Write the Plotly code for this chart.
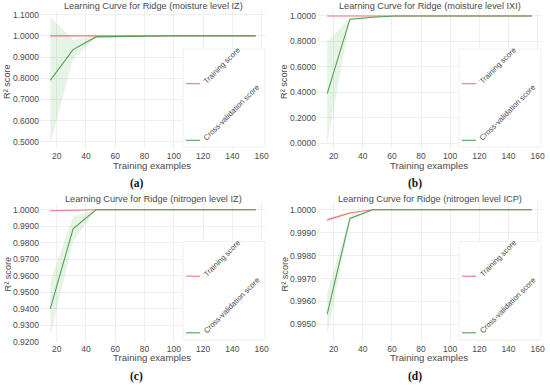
import plotly.graph_objects as go

train_sizes = [15.6, 31.2, 46.8, 62.4, 78.0, 93.6, 109.2, 124.8, 140.4, 156.0]

titles = ["Learning Curve for Ridge (moisture level IZ)",
          "Learning Curve for Ridge (moisture level IXI)",
          "Learning Curve for Ridge (nitrogen level IZ)",
          "Learning Curve for Ridge (nitrogen level ICP)"]
captions = ["(a)", "(b)", "(c)", "(d)"]

# (a) moisture IZ
train_a = [1.0] * 10
train_a_lo = [1.0] * 10
train_a_hi = [1.0] * 10
cv_a = [0.790, 0.935, 0.995, 0.997, 1.0, 1.0, 1.0, 1.0, 1.0, 1.0]
cv_a_lo = [0.490, 0.890, 0.990, 0.995, 1.0, 1.0, 1.0, 1.0, 1.0, 1.0]
cv_a_hi = [1.090, 0.980, 1.000, 0.999, 1.0, 1.0, 1.0, 1.0, 1.0, 1.0]

# (b) moisture IXI
train_b = [1.0] * 10
train_b_lo = [1.0] * 10
train_b_hi = [1.0] * 10
cv_b = [0.390, 0.975, 0.990, 1.0, 1.0, 1.0, 1.0, 1.0, 1.0, 1.0]
cv_b_lo = [-0.010, 0.968, 0.985, 1.0, 1.0, 1.0, 1.0, 1.0, 1.0, 1.0]
cv_b_hi = [0.800, 0.985, 0.995, 1.0, 1.0, 1.0, 1.0, 1.0, 1.0, 1.0]

# (c) nitrogen IZ
train_c = [0.99945, 0.99985, 1.0, 1.0, 1.0, 1.0, 1.0, 1.0, 1.0, 1.0]
train_c_lo = [0.99925, 0.99975, 1.0, 1.0, 1.0, 1.0, 1.0, 1.0, 1.0, 1.0]
train_c_hi = [0.99965, 0.99995, 1.0, 1.0, 1.0, 1.0, 1.0, 1.0, 1.0, 1.0]
cv_c = [0.9400, 0.9885, 1.0, 1.0, 1.0, 1.0, 1.0, 1.0, 1.0, 1.0]
cv_c_lo = [0.9235, 0.9810, 0.9998, 1.0, 1.0, 1.0, 1.0, 1.0, 1.0, 1.0]
cv_c_hi = [0.9565, 0.9960, 1.0, 1.0, 1.0, 1.0, 1.0, 1.0, 1.0, 1.0]

# (d) nitrogen ICP
train_d = [0.99956, 0.99986, 1.0, 1.0, 1.0, 1.0, 1.0, 1.0, 1.0, 1.0]
train_d_lo = [0.99948, 0.99982, 1.0, 1.0, 1.0, 1.0, 1.0, 1.0, 1.0, 1.0]
train_d_hi = [0.99964, 0.99990, 1.0, 1.0, 1.0, 1.0, 1.0, 1.0, 1.0, 1.0]
cv_d = [0.99545, 0.99962, 1.0, 1.0, 1.0, 1.0, 1.0, 1.0, 1.0, 1.0]
cv_d_lo = [0.99452, 0.99952, 0.99998, 1.0, 1.0, 1.0, 1.0, 1.0, 1.0, 1.0]
cv_d_hi = [0.99638, 0.99972, 1.0, 1.0, 1.0, 1.0, 1.0, 1.0, 1.0, 1.0]

panels = [
    (train_a, train_a_lo, train_a_hi, cv_a, cv_a_lo, cv_a_hi),
    (train_b, train_b_lo, train_b_hi, cv_b, cv_b_lo, cv_b_hi),
    (train_c, train_c_lo, train_c_hi, cv_c, cv_c_lo, cv_c_hi),
    (train_d, train_d_lo, train_d_hi, cv_d, cv_d_lo, cv_d_hi),
]

y_ranges = [[0.4655, 1.1222], [-0.0448, 1.047], [0.9200, 1.0044], [0.99423, 1.000317]]
y_ticks = [[0.5, 0.6, 0.7, 0.8, 0.9, 1.0, 1.1],
           [0.0, 0.2, 0.4, 0.6, 0.8, 1.0],
           [0.92, 0.93, 0.94, 0.95, 0.96, 0.97, 0.98, 0.99, 1.0],
           [0.995, 0.996, 0.997, 0.998, 0.999, 1.0]]
x_ticks = [20, 40, 60, 80, 100, 120, 140, 160]
x_range = [8.6, 163]

W, H = 550, 385
# plot areas in pixels: (left, right, top, bottom)
areas = [(40, 266, 10, 149), (317, 542, 10, 149), (40, 266, 202.5, 342), (317, 542, 202.5, 342)]
row_off = [0, 0, 192.5, 192.5]
cap_x = [137, 415, 136, 415]

RED = "#e8777a"
GREEN = "#55a055"
FONT = "Liberation Sans, Arial, sans-serif"
TXT = "#4a4a4a"

fig = go.Figure()
annotations = []
shapes = []


def px(x):
    return x / W


def py(y):
    return 1 - y / H


for i, (tr, trl, trh, cv, cvl, cvh) in enumerate(panels):
    n = "" if i == 0 else str(i + 1)
    xa, ya = "x" + n, "y" + n
    l, r, t, b = areas[i]
    off = row_off[i]
    fig.add_trace(go.Scatter(x=train_sizes + train_sizes[::-1], y=trh + trl[::-1],
                             fill="toself", fillcolor="rgba(235,80,80,0.15)",
                             line=dict(width=0), mode="lines", hoverinfo="skip",
                             showlegend=False, xaxis=xa, yaxis=ya))
    fig.add_trace(go.Scatter(x=train_sizes + train_sizes[::-1], y=cvh + cvl[::-1],
                             fill="toself", fillcolor="rgba(60,170,60,0.13)",
                             line=dict(width=0), mode="lines", hoverinfo="skip",
                             showlegend=False, xaxis=xa, yaxis=ya))
    fig.add_trace(go.Scatter(x=train_sizes, y=tr, mode="lines", name="Training score",
                             line=dict(color=RED, width=1.1), showlegend=False,
                             xaxis=xa, yaxis=ya))
    fig.add_trace(go.Scatter(x=train_sizes, y=cv, mode="lines", name="Cross-validation score",
                             line=dict(color=GREEN, width=1.1), showlegend=False,
                             xaxis=xa, yaxis=ya))

    axis_common = dict(showline=False, zeroline=False, showgrid=True, automargin=False,
                       gridcolor="#efefef", gridwidth=1, ticks="",
                       tickfont=dict(size=8.5, color=TXT, family=FONT))
    fig.update_layout(**{
        "xaxis" + n: dict(domain=[px(l), px(r)], range=x_range, tickvals=x_ticks,
                          anchor=ya, **axis_common),
        "yaxis" + n: dict(domain=[py(b), py(t)], range=y_ranges[i], tickvals=y_ticks[i],
                          tickformat=".4f", anchor=xa, **axis_common),
    })

    # title
    annotations.append(dict(text=titles[i], x=px((l + r) / 2), y=py(6 + off),
                            xref="paper", yref="paper", showarrow=False,
                            xanchor="center", yanchor="middle",
                            font=dict(size=9.2, color=TXT, family=FONT)))
    # x axis title
    annotations.append(dict(text="Training examples", x=px((l + r) / 2 - 1), y=py(165 + off),
                            xref="paper", yref="paper", showarrow=False,
                            xanchor="center", yanchor="middle",
                            font=dict(size=9.6, color=TXT, family=FONT)))
    # y axis title
    annotations.append(dict(text="R² score", x=px(l - 33), y=py(82 + off),
                            xref="paper", yref="paper", showarrow=False, textangle=-90,
                            xanchor="center", yanchor="middle",
                            font=dict(size=9.2, color=TXT, family=FONT)))
    # caption
    annotations.append(dict(text="<b>" + captions[i] + "</b>", x=px(cap_x[i]),
                            y=py(183.5 + off), xref="paper", yref="paper",
                            showarrow=False, xanchor="center", yanchor="middle",
                            font=dict(size=11.5, color="#111111",
                                      family="Liberation Serif, Times New Roman, serif")))
    # legend box
    lx0 = r - 83
    shapes.append(dict(type="rect", xref="paper", yref="paper",
                       x0=px(lx0), x1=px(r - 1), y0=py(b - 2), y1=py(49 + off),
                       line=dict(color="#f0f0f0", width=1), fillcolor="white", layer="above"))
    for label, col, yy in [("Training score", RED, 83.7 + off),
                           ("Cross-validation score", GREEN, 140.3 + off)]:
        shapes.append(dict(type="line", xref="paper", yref="paper",
                           x0=px(lx0 + 3), x1=px(lx0 + 17), y0=py(yy), y1=py(yy),
                           line=dict(color=col, width=1.1), layer="above"))
        annotations.append(dict(text=label, x=px(lx0 + 16), y=py(yy + 5),
                                xref="paper", yref="paper", showarrow=False,
                                textangle=-45, xanchor="left", yanchor="bottom",
                                font=dict(size=7.6, color=TXT, family=FONT)))

fig.update_layout(width=W, height=H, margin=dict(l=0, r=0, t=0, b=0, pad=0),
                  paper_bgcolor="white", plot_bgcolor="white",
                  annotations=annotations, shapes=shapes, showlegend=False)

fig.write_html("out.html", config={"displayModeBar": False},
               post_script="document.body.style.margin='0';document.body.style.overflow='hidden';")
